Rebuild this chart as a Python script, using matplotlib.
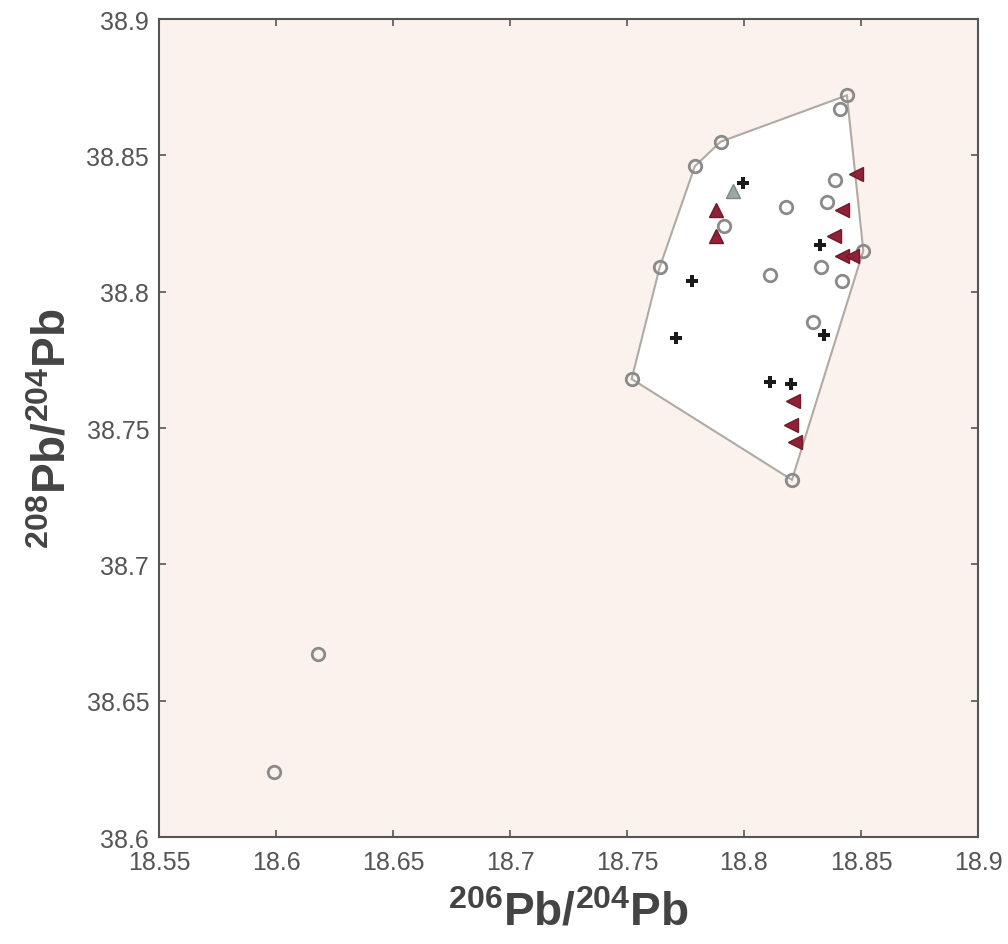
import matplotlib
matplotlib.use("Agg")
import matplotlib.pyplot as plt
import numpy as np

# Pb izotopi - vrednosti procitane sa grafika
circ_x = [18.844, 18.841, 18.790, 18.779, 18.839, 18.8355, 18.818, 18.7915, 18.851,
          18.833, 18.764, 18.811, 18.842, 18.8295, 18.752, 18.8205, 18.618, 18.599]
circ_y = [38.872, 38.867, 38.855, 38.846, 38.841, 38.833, 38.831, 38.824, 38.815,
          38.809, 38.809, 38.806, 38.804, 38.789, 38.768, 38.731, 38.667, 38.624]

plus_x = [18.7996, 18.8325, 18.778, 18.771, 18.834, 18.811, 18.820]
plus_y = [38.840, 38.817, 38.804, 38.783, 38.784, 38.767, 38.766]

tri_up_x = [18.788, 18.788]
tri_up_y = [38.830, 38.8205]

tri_left_x = [18.848, 18.842, 18.8385, 18.842, 18.846, 18.821, 18.820, 18.822]
tri_left_y = [38.843, 38.830, 38.8205, 38.813, 38.813, 38.760, 38.751, 38.745]

gray_tri_x = [18.7955]
gray_tri_y = [38.837]

xticks = [18.55, 18.6, 18.65, 18.7, 18.75, 18.8, 18.85, 18.9]
yticks = [38.6, 38.65, 38.7, 38.75, 38.8, 38.85, 38.9]


def convex_hull(px, py):
    pts = sorted(set(zip(px, py)))

    def cross(o, a, b):
        return (a[0] - o[0]) * (b[1] - o[1]) - (a[1] - o[1]) * (b[0] - o[0])

    lower, upper = [], []
    for p in pts:
        while len(lower) >= 2 and cross(lower[-2], lower[-1], p) <= 0:
            lower.pop()
        lower.append(p)
    for p in reversed(pts):
        while len(upper) >= 2 and cross(upper[-2], upper[-1], p) <= 0:
            upper.pop()
        upper.append(p)
    return np.array(lower[:-1] + upper[:-1])


plt.rcParams['font.family'] = ['Liberation Sans', 'DejaVu Sans']
plt.rcParams['mathtext.fontset'] = 'custom'
plt.rcParams['mathtext.rm'] = 'Liberation Sans'
plt.rcParams['mathtext.bf'] = 'Liberation Sans:bold'

fig = plt.figure(figsize=(10.08, 9.45), dpi=100)
ax = fig.add_axes([0.1577, 0.1132, 0.8125, 0.8656])
ax.set_facecolor('#fbf2ed')

# omotac oko klastera (bez dve tacke u donjem levom uglu)
hull = convex_hull(circ_x[:16], circ_y[:16])
ax.fill(hull[:, 0], hull[:, 1], facecolor='white', edgecolor='#b0aaa4',
        linewidth=1.5, zorder=1)

ax.plot(circ_x, circ_y, 'o', markerfacecolor='none', markeredgecolor='#8a8a8a',
        markersize=9, markeredgewidth=2, zorder=3)
ax.plot(plus_x, plus_y, 'P', color='#1a1a1a', markersize=9,
        markeredgewidth=0, zorder=4)
ax.plot(gray_tri_x, gray_tri_y, '^', color='#9aa8a4', markeredgecolor='#7f8a88',
        markersize=10, zorder=3)
ax.plot(tri_up_x, tri_up_y, '^', color='#8e2236', markeredgecolor='#6e1a28',
        markersize=10, zorder=4)
ax.plot(tri_left_x, tri_left_y, '<', color='#8e2236', markeredgecolor='#6e1a28',
        markersize=10, zorder=4)

ax.set_xlim(18.55, 18.9)
ax.set_ylim(38.6, 38.9)
ax.set_xticks(xticks)
ax.set_yticks(yticks)
ax.set_xticklabels([f"{v:g}" for v in xticks])
ax.set_yticklabels([f"{v:g}" for v in yticks])
ax.tick_params(direction='in', length=5, width=1.2, colors='#555555',
               labelsize=18, top=True, right=True, labelcolor='#555555')
ax.tick_params(axis='x', pad=9)
ax.tick_params(axis='y', pad=7)
for s in ax.spines.values():
    s.set_color('#555555')
    s.set_linewidth(1.5)

ax.set_xlabel(r'$\mathbf{^{206}Pb/^{204}Pb}$', fontsize=33, color='#444444',
              labelpad=12)
ax.set_ylabel(r'$\mathbf{^{208}Pb/^{204}Pb}$', fontsize=33, color='#444444',
              labelpad=8)

fig.savefig("out.png", dpi=100, facecolor='white')
plt.close(fig)
